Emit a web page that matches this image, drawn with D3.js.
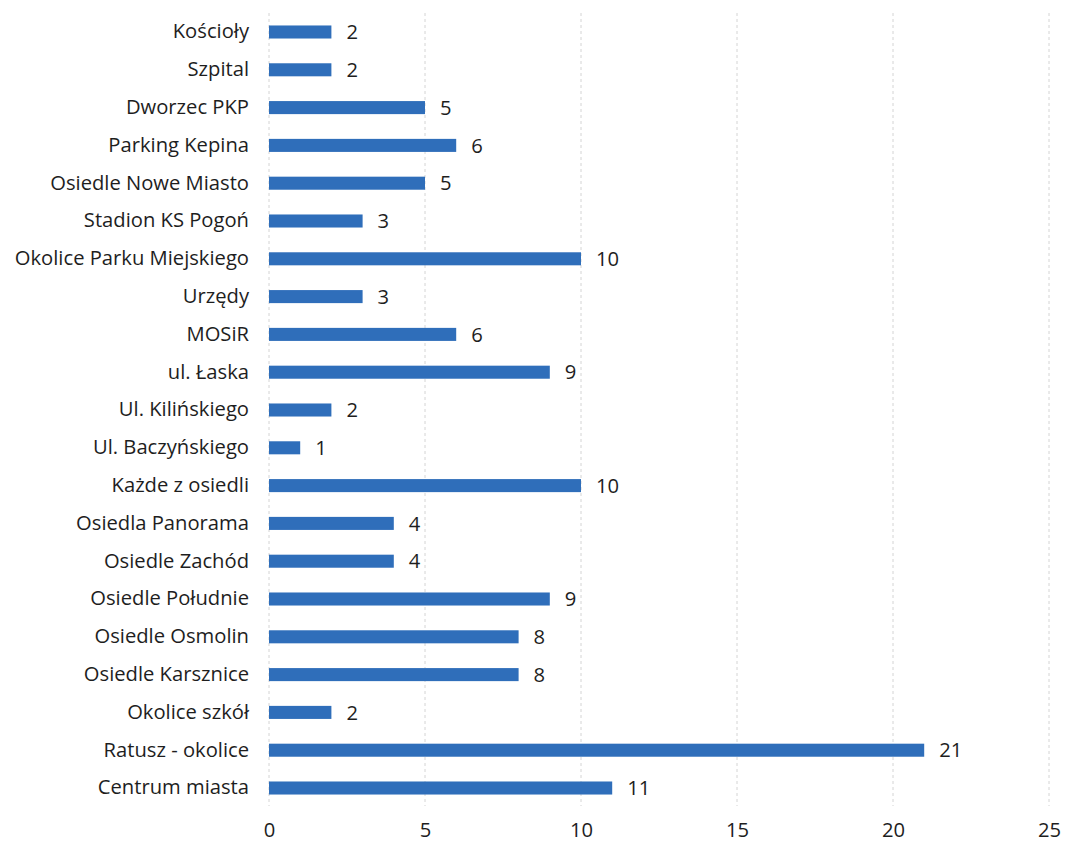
<!DOCTYPE html>
<html><head><meta charset="utf-8">
<script src="https://cdn.jsdelivr.net/npm/d3@7"></script>
<style>body{margin:0;background:#fff;} text{font-family:"Open Sans",sans-serif;fill:#1e1e1e;}</style>
</head><body>
<svg id="c" width="1066" height="848"></svg>
<script>
const categories = ["Kościoły","Szpital","Dworzec PKP","Parking Kepina","Osiedle Nowe Miasto","Stadion KS Pogoń","Okolice Parku Miejskiego","Urzędy","MOSiR","ul. Łaska","Ul. Kilińskiego","Ul. Baczyńskiego","Każde z osiedli","Osiedla Panorama","Osiedle Zachód","Osiedle Południe","Osiedle Osmolin","Osiedle Karsznice","Okolice szkół","Ratusz - okolice","Centrum miasta"];
const values = [2,2,5,6,5,3,10,3,6,9,2,1,10,4,4,9,8,8,2,21,11];
const xTicks = [0,5,10,15,20,25];

const FS = 20.2;
const svg = d3.select("#c");
const x = d3.scaleLinear().domain([0,25]).range([269,1049]);
const y = d3.scaleBand().domain(categories).range([13,807]).paddingInner(0.655).paddingOuter(0.33);

// gridlines
svg.append("g").selectAll("line").data(xTicks).join("line")
  .attr("x1",d=>x(d)).attr("x2",d=>x(d)).attr("y1",13).attr("y2",806)
  .attr("stroke","#d4d4d4").attr("stroke-width",1).attr("stroke-dasharray","3,3");

// bars
svg.append("g").selectAll("rect").data(values).join("rect")
  .attr("x",x(0)).attr("y",(d,i)=>y(categories[i]))
  .attr("width",d=>x(d)-x(0)).attr("height",y.bandwidth())
  .attr("fill","#2F6EBA");

// value labels
svg.append("g").selectAll("text").data(values).join("text")
  .attr("x",d=>x(d)+15).attr("y",(d,i)=>y(categories[i])+y.bandwidth()/2)
  .attr("dy","0.36em").attr("font-size",FS).text(d=>d);

// category axis
const yAxis = d3.axisLeft(y).tickSize(0).tickPadding(20);
const gy = svg.append("g").attr("transform",`translate(${x(0)},0)`).call(yAxis);
gy.select(".domain").remove();
gy.selectAll("text").attr("font-size",FS).style("font-family","'Open Sans', sans-serif").attr("fill","#1e1e1e");

// x axis
const xAxis = d3.axisBottom(x).tickValues(xTicks).tickSize(0).tickPadding(0);
const gx = svg.append("g").attr("transform","translate(0,823)").call(xAxis);
gx.select(".domain").remove();
gx.selectAll("text").attr("font-size",FS).attr("dy","0.71em").style("font-family","'Open Sans', sans-serif").attr("fill","#1e1e1e");
</script>
</body></html>
